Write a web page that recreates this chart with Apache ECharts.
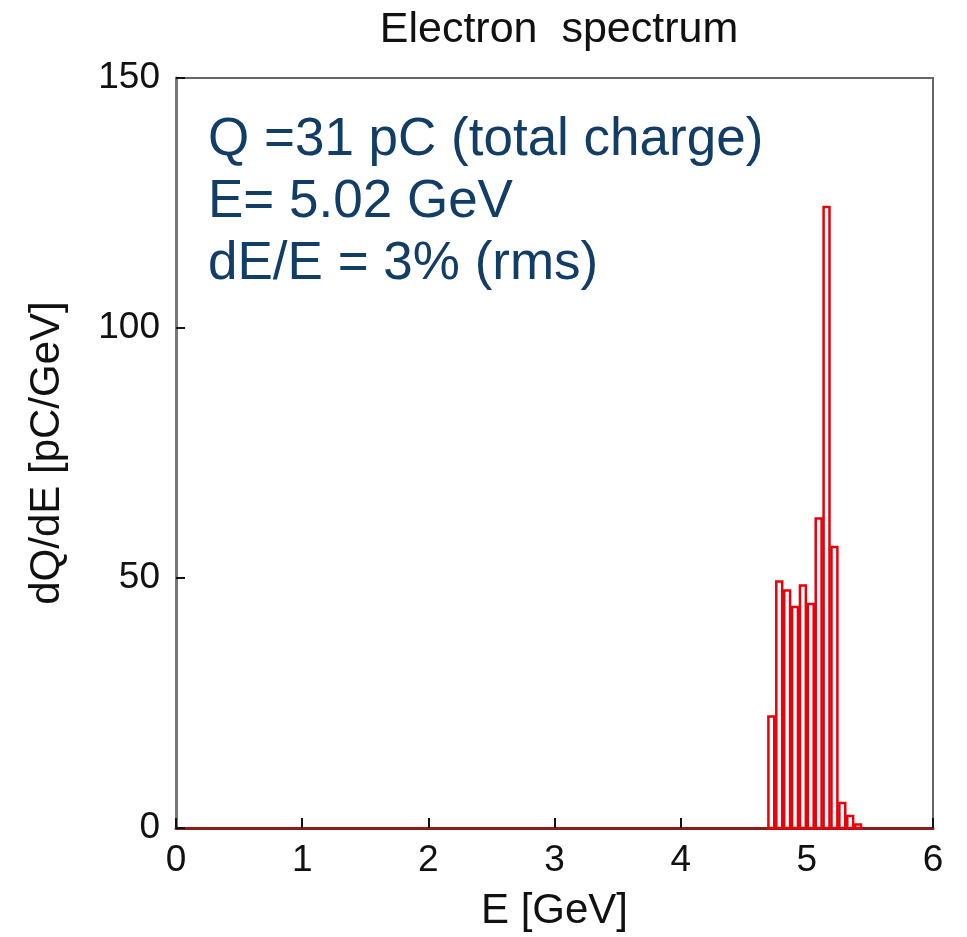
<!DOCTYPE html>
<html>
<head>
<meta charset="utf-8">
<script src="https://cdn.jsdelivr.net/npm/echarts@6/dist/echarts.min.js"></script>
<style>html,body{margin:0;padding:0;background:#fff}#c{width:967px;height:937px}</style>
</head>
<body>
<div id="c"></div>
<script>
// Histogram bins (GeV) and values (pC/GeV)
const binLeft = [4.6875, 4.75, 4.8125, 4.875, 4.9375, 5.0, 5.0625, 5.125, 5.1875, 5.25, 5.3125, 5.375];
const binWidth = 0.0625;
const values = [22.3, 49.3, 47.5, 44.2, 48.5, 44.8, 61.9, 124.2, 56.2, 5.0, 2.4, 0.7];
const xTicks = [0, 1, 2, 3, 4, 5, 6];
const yTicks = [0, 50, 100, 150];
const titleText = 'Electron  spectrum';
const noteLines = ['Q =31 pC (total charge)', 'E= 5.02 GeV', 'dE/E = 3% (rms)'];

const histData = binLeft.map((b, i) => [b, b + binWidth, values[i]]);

const chart = echarts.init(document.getElementById('c'));
const font = 'Liberation Sans, Arial, sans-serif';
chart.setOption({
  animation: false,
  backgroundColor: '#fff',
  title: [
    { text: titleText, left: 554, textAlign: 'center', top: 4,
      textStyle: { fontFamily: font, fontSize: 43, fontWeight: 'normal', color: '#111' } },
    { text: noteLines.join('\n'), left: 203, top: 104,
      textStyle: { fontFamily: font, fontSize: 53, fontWeight: 'normal', color: '#123d66', lineHeight: 62 } }
  ],
  grid: { left: 176, right: 34, top: 78, bottom: 105, show: true, borderColor: '#666', borderWidth: 2, backgroundColor: 'transparent' },
  xAxis: {
    type: 'value', min: xTicks[0], max: xTicks[xTicks.length - 1], interval: 1,
    name: 'E [GeV]', nameLocation: 'middle', nameGap: 62,
    nameTextStyle: { fontFamily: font, fontSize: 42, color: '#111' },
    axisLine: { lineStyle: { color: '#8a1c1c', width: 3 } },
    axisTick: { inside: true, length: 10, lineStyle: { color: '#111', width: 2 } },
    axisLabel: { fontFamily: font, fontSize: 37, color: '#111', margin: 14 },
    splitLine: { show: false }
  },
  yAxis: {
    type: 'value', min: yTicks[0], max: yTicks[yTicks.length - 1], interval: 50,
    name: 'dQ/dE [pC/GeV]', nameLocation: 'middle', nameGap: 108,
    nameTextStyle: { fontFamily: font, fontSize: 42, color: '#111' },
    axisLine: { lineStyle: { color: '#777', width: 3 } },
    axisTick: { inside: true, length: 9, lineStyle: { color: '#111', width: 2 } },
    axisLabel: { fontFamily: font, fontSize: 37, color: '#111', margin: 16 },
    splitLine: { show: false }
  },
  series: [{
    type: 'custom',
    data: histData,
    renderItem: function (params, api) {
      const p0 = api.coord([api.value(0), api.value(2)]);
      const p1 = api.coord([api.value(1), 0]);
      return {
        type: 'rect',
        shape: { x: p0[0] + 1, y: p0[1], width: p1[0] - p0[0] - 2, height: p1[1] - p0[1] },
        style: { fill: 'none', stroke: '#e8000b', lineWidth: 2.5 }
      };
    },
    encode: { x: [0, 1], y: 2 }
  }]
});
</script>
</body>
</html>
